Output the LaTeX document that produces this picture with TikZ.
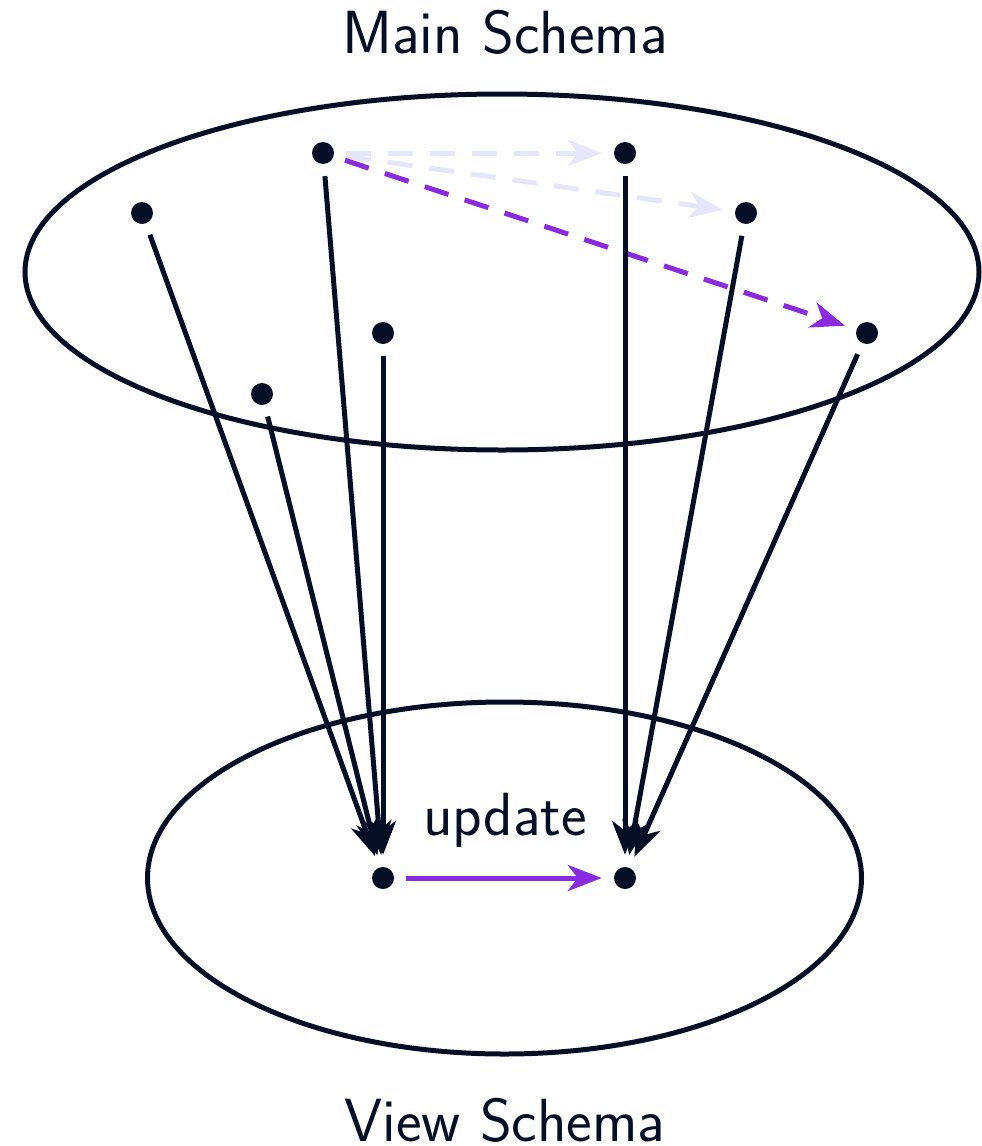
\documentclass[tikz,border=0pt]{standalone}
\usetikzlibrary{arrows.meta}
\definecolor{navy}{HTML}{050E25}
\definecolor{violet}{HTML}{8A2BE2}
\definecolor{lav}{HTML}{E6E6FA}
\begin{document}
\begin{tikzpicture}[x=1pt,y=-1pt,
  dot/.style={circle,fill=navy,inner sep=0pt,minimum size=22pt},
  edge/.style={line width=5pt,shorten <=12pt,shorten >=12pt,-{Stealth[length=34pt,width=26pt,inset=10pt]}},
  lbl/.style={font=\sffamily\fontsize{61}{64}\selectfont,text=navy,anchor=base,inner sep=0pt},
  dsh/.style={dash pattern=on 25pt off 17pt}]
\useasboundingbox (0,0) rectangle (982,1146);
\draw[navy,line width=5pt] (502,272) ellipse [x radius=477,y radius=178];
\draw[navy,line width=5pt] (504.5,878) ellipse [x radius=357,y radius=176];
\node[dot] (A) at (323,153) {};
\node[dot] (B) at (625,153) {};
\node[dot] (C) at (142,213) {};
\node[dot] (D) at (746,213) {};
\node[dot] (E) at (383,333) {};
\node[dot] (F) at (867,333) {};
\node[dot] (G) at (262,394) {};
\node[dot] (L) at (383,878) {};
\node[dot] (R) at (625,878) {};
\node[lbl] (t1) at (505,53) {Main Schema};
\node[lbl] (t2) at (505,1141) {View Schema};
\node[lbl] (t3) at (505,835) {update};
\draw[edge,lav,dsh] (A) -- (B);
\draw[edge,lav,dsh] (A) -- (D);
\draw[edge,violet,dsh] (A) -- (F);
\draw[edge,navy] (C) -- (L);
\draw[edge,navy] (A) -- (L);
\draw[edge,navy] (E) -- (L);
\draw[edge,navy] (G) -- (L);
\draw[edge,navy] (B) -- (R);
\draw[edge,navy] (D) -- (R);
\draw[edge,navy] (F) -- (R);
\draw[edge,violet] (L) -- (R);
\end{tikzpicture}
\end{document}
